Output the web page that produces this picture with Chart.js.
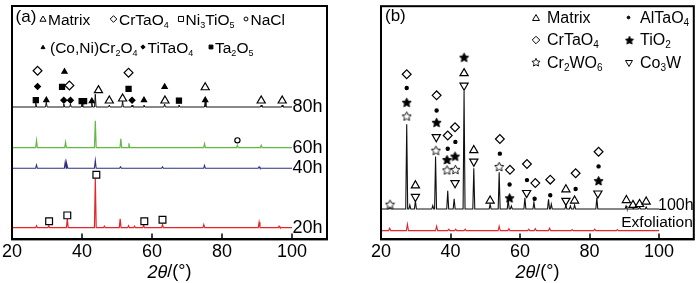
<!DOCTYPE html>
<html>
<head>
<meta charset="utf-8">
<script src="https://cdn.jsdelivr.net/npm/chart.js@4.4.0/dist/chart.umd.min.js"></script>
<style>
  html, body { margin: 0; padding: 0; background: #fff; }
  #wrap { position: relative; width: 700px; height: 283px; }
  .pane { position: absolute; top: 0; width: 350px; height: 283px; }
</style>
</head>
<body>
<div id="wrap">
  <div class="pane" style="left:0"><canvas id="chA" width="350" height="283"></canvas></div>
  <div class="pane" style="left:350px"><canvas id="chB" width="350" height="283"></canvas></div>
</div>
<script>
/* ===== XRD patterns, (a) oxidation time series / (b) 100h vs exfoliation ===== */
// x axis = 2θ (°); intensity = height above the x axis (arbitrary units)
var xTicks = [20, 40, 60, 80, 100];

// --- (a) curves: baseline, peak positions, peak tops ---
var aCurveNames = ["20h", "40h", "60h", "80h"];
var aCurveColors = ["#e3262b", "#2e2f80", "#63b946", "#111111"];
var a20hBase = 12;
var a20hPos = [27.0, 30.5, 35.8, 43.8, 46.4, 50.9, 53.3, 55.0, 57.6, 63.0, 74.8, 90.6, 96.3];
var a20hTop = [14, 14, 21, 62, 13.5, 21, 14, 13.5, 14.5, 15, 15, 17.5, 13.5];
var a40hBase = 72.5;
var a40hPos = [27.0, 35.2, 35.7, 43.8, 51.0, 63.0, 75.0, 90.6];
var a40hTop = [76, 79, 78, 80.5, 74, 74, 75.5, 74];
var a60hBase = 93.5;
var a60hPos = [27.0, 35.3, 43.8, 51.1, 53.4, 75.0, 84.4, 91.2];
var a60hTop = [101, 99, 121, 102.5, 98, 97.5, 96, 96];
var a80hBase = 135;
var a80hPos = [26.8, 29.8, 34.8, 36.7, 40.0, 42.8, 43.8, 47.8, 51.6, 54.3, 57.7, 63.6, 67.7, 75.2, 91.2, 97.2];
var a80hTop = [139, 140, 138, 138, 138, 139, 148, 137, 141, 137, 137, 138, 137, 141, 137, 137];

// --- (a) phase markers ---
var aMatrixX = [44.7, 75.2, 47.8, 51.6, 63.7, 91.2, 97.2];
var aMatrixY = [152, 155, 141.5, 143.5, 141.5, 141.5, 141.5];
var aCrTaO4X = [27.3, 36.4, 53.3];
var aCrTaO4Y = [172, 157, 170];
var aNi3TiO5X = [30.6, 35.8, 44.1, 57.8, 63.0];
var aNi3TiO5Y = [18.5, 24.5, 66, 18.5, 20];
var aNaClX = [84.4];
var aNaClY = [101];
var aSpinelX = [35.0, 63.6, 29.8, 42.8, 57.7, 75.2];
var aSpinelY = [171, 155.5, 142, 141, 142, 142];
var aTiTaO4X = [27.3, 34.8, 36.7, 54.3];
var aTiTaO4Y = [156, 142, 142, 142];
var aTa2O5X = [34.3, 53.3, 26.8, 39.9, 40.6, 67.7];
var aTa2O5Y = [155.5, 153.5, 142, 141, 141, 141.5];

// --- (b) curves ---
var bCurveNames = ["Exfoliation", "100h"];
var bCurveColors = ["#e3262b", "#111111"];
var bExfBase = 9;
var bExfPos = [22.5, 27.6, 36.0, 39.5, 41.5, 44.2, 54.0, 56.8, 62.5, 64.4, 68.5, 75.0, 81.5, 88.0];
var bExfTop = [11.5, 15.5, 13.5, 10.5, 10.5, 10.5, 13.5, 11, 10.5, 11, 11.5, 10, 10.5, 10];
var b100hBase = 31;
var b100hPos = [22.6, 27.4, 28.3, 29.9, 34.9, 35.7, 39.2, 41.05, 43.9, 46.7, 51.4, 54.0, 56.6, 57.5, 61.4, 64.0, 68.2, 69.0, 73.2, 74.5, 75.7, 82.1, 90.5, 92.5, 94.4, 96.3];
var b100hTop = [33, 117.5, 35, 39.5, 34.5, 84.5, 49.5, 41.5, 151.5, 72.5, 36, 68.5, 41, 34, 42.5, 38, 41, 36, 35, 34, 35, 42.5, 34, 33, 33, 33];

// --- (b) phase markers ---
var bMatrixX = [43.9, 29.9, 46.7, 51.4, 73.2, 75.7, 90.6, 92.5, 94.4, 96.3];
var bMatrixY = [169.5, 55, 91, 39.5, 51, 39.5, 40, 35, 36, 38.5];
var bCo3WX = [43.9, 29.9, 35.9, 41.3, 46.7, 61.9, 73.2, 82.4];
var bCo3WY = [157, 43.5, 104.5, 57.5, 79.5, 47.5, 39.5, 47];
var bCrTaO4X = [27.4, 36.0, 39.2, 41.3, 54.2, 57.1, 62.0, 64.4, 68.7, 76.0, 82.6];
var bCrTaO4Y = [168.5, 147, 106, 114.5, 102.5, 71, 77, 57.5, 61, 67.5, 89.5];
var bAlTaO4X = [27.4, 36.0, 39.2, 41.4, 54.2, 57.0, 62.0, 64.2, 68.7, 76.0, 82.6];
var bAlTaO4Y = [154.5, 131.5, 92.5, 99.5, 87.5, 56, 60.5, 41.5, 45, 51.5, 74.5];
var bTiO2X = [43.9, 27.4, 36.0, 39.0, 41.3, 57.0, 82.6];
var bTiO2Y = [186, 140, 119.5, 81.5, 85, 42.5, 60];
var bCr2WO6X = [22.6, 27.4, 35.8, 39.0, 41.4, 54.0];
var bCr2WO6Y = [36, 126, 91, 71, 71.5, 74.5];

var FONT = "'Liberation Sans', Arial, Helvetica, sans-serif";
Chart.defaults.font.family = FONT;

function pattern(base, pos, top, hw) {
  var pts = [{ x: 20, y: base }];
  pos.forEach(function (p, i) {
    pts.push({ x: p - hw, y: base }, { x: p, y: top[i] }, { x: p + hw, y: base });
  });
  pts.push({ x: 100, y: base });
  return pts;
}
function zip(xs, ys) { return xs.map(function (x, i) { return { x: x, y: ys[i] }; }); }

function starCanvas(size, filled) {
  var c = document.createElement("canvas");
  c.width = c.height = size;
  var g = c.getContext("2d"), r = size / 2 - 0.7, cx = size / 2, cy = size / 2 + 0.6;
  g.beginPath();
  for (var i = 0; i < 10; i++) {
    var rr = i % 2 ? r * 0.48 : r, ang = -Math.PI / 2 + i * Math.PI / 5;
    g.lineTo(cx + rr * Math.cos(ang), cy + rr * Math.sin(ang));
  }
  g.closePath();
  g.fillStyle = filled ? "#000" : "#fff"; g.fill();
  g.lineWidth = 0.9; g.strokeStyle = "#000"; g.stroke();
  return c;
}
var STAR = starCanvas(11, true), STAR_O = starCanvas(11, false);
var STAR_L = starCanvas(10, true), STAR_LO = starCanvas(10, false);

// marker look per phase
var M = {
  matrix:  { pointStyle: "triangle", radius: 4.7, rotation: 0, fill: "#fff" },
  co3w:    { pointStyle: "triangle", radius: 4.7, rotation: 180, fill: "#fff" },
  crtao4:  { pointStyle: "rectRot", radius: 4.4, rotation: 0, fill: "#fff" },
  ni3tio5: { pointStyle: "rect", radius: 4.8, rotation: 0, fill: "#fff" },
  nacl:    { pointStyle: "circle", radius: 2.6, rotation: 0, fill: "#fff" },
  spinel:  { pointStyle: "triangle", radius: 3, rotation: 0, fill: "#000" },
  titao4:  { pointStyle: "rectRot", radius: 2.9, rotation: 0, fill: "#000" },
  ta2o5:   { pointStyle: "rect", radius: 3.6, rotation: 0, fill: "#000" },
  altao4:  { pointStyle: "circle", radius: 1.6, rotation: 0, fill: "#000" },
  tio2:    { pointStyle: STAR, radius: 5, rotation: 0, fill: "#000" },
  cr2wo6:  { pointStyle: STAR_O, radius: 5, rotation: 0, fill: "#fff" }
};

function markerSet(xs, ys, m) {
  return {
    data: zip(xs, ys), showLine: false, order: 0,
    pointStyle: m.pointStyle, pointRadius: m.radius, pointRotation: m.rotation,
    pointBackgroundColor: m.fill, pointBorderColor: "#000", pointBorderWidth: 1.2
  };
}
function lineSet(pts, color, w) {
  return { data: pts, showLine: true, order: 1, pointRadius: 0, borderColor: color, borderWidth: w, tension: 0 };
}

// text with "_n" subscripts, alphabetic baseline
function richText(ctx, x, y, str, size) {
  str.split(/(_\d)/).forEach(function (p) {
    if (!p) return;
    if (p.charAt(0) === "_") {
      ctx.font = Math.round(size * 0.6) + "px " + FONT;
      ctx.fillText(p.charAt(1), x, y + size * 0.2);
      x += ctx.measureText(p.charAt(1)).width;
    } else {
      ctx.font = size + "px " + FONT;
      ctx.fillText(p, x, y);
      x += ctx.measureText(p).width;
    }
  });
  return x;
}
function legendMark(ctx, m, x, y, scale) {
  ctx.save();
  ctx.fillStyle = m.fill; ctx.strokeStyle = "#000"; ctx.lineWidth = 1;
  var st = m.pointStyle === STAR ? STAR_L : m.pointStyle === STAR_O ? STAR_LO : m.pointStyle;
  Chart.helpers.drawPoint(ctx, { pointStyle: st, rotation: m.rotation, radius: m.radius * scale, borderWidth: 1 }, x, y);
  ctx.restore();
}

// frame, inward ticks, axis title, panel letter, legend, curve names
function deco(cfg) {
  return {
    id: "deco" + cfg.letter,
    afterDraw: function (chart) {
      var ctx = chart.ctx, a = chart.chartArea, xs = chart.scales.x, ys = chart.scales.y;
      ctx.save();
      ctx.strokeStyle = "#000"; ctx.lineWidth = 2;
      ctx.strokeRect(a.left, a.top, a.right - a.left, a.bottom - a.top);
      ctx.beginPath();
      xTicks.forEach(function (v) {
        var px = Math.round(xs.getPixelForValue(v));
        ctx.moveTo(px, a.bottom); ctx.lineTo(px, a.bottom - 6);
      });
      ctx.lineWidth = 1.5; ctx.stroke();

      ctx.fillStyle = "#000"; ctx.textBaseline = "middle";
      var it = "italic 18px " + FONT, nf = "18px " + FONT;
      ctx.font = it; var w1 = ctx.measureText("2θ").width;
      ctx.font = nf; var w2 = ctx.measureText("/(°)").width;
      var x0 = (a.left + a.right) / 2 - (w1 + w2) / 2;
      ctx.font = it; ctx.textAlign = "left"; ctx.fillText("2θ", x0, 272.5);
      ctx.font = nf; ctx.fillText("/(°)", x0 + w1, 272.5);

      ctx.textBaseline = "alphabetic";
      ctx.font = "17px " + FONT;
      ctx.fillText("(" + cfg.letter + ")", a.left + cfg.letterDx, cfg.letterY);

      cfg.legend.forEach(function (it2) {
        legendMark(ctx, it2.m, it2.mx, it2.my, cfg.legendScale);
        ctx.fillStyle = "#000";
        richText(ctx, it2.tx, it2.ty, it2.text, cfg.legendSize);
      });

      cfg.curves.forEach(function (c) {
        ctx.font = c.size + "px " + FONT;
        ctx.textAlign = c.align;
        ctx.textBaseline = c.baseline;
        var px = c.align === "right" ? a.right - 1 : xs.getPixelForValue(100) + c.dx;
        ctx.fillText(c.name, px, ys.getPixelForValue(c.base) + c.dy);
      });
      ctx.restore();
    }
  };
}

function makeChart(id, datasets, pad, cfg) {
  return new Chart(document.getElementById(id), {
    type: "scatter",
    data: { datasets: datasets },
    options: {
      responsive: false, animation: false, events: [],
      layout: { padding: pad },
      plugins: { legend: { display: false }, tooltip: { enabled: false } },
      scales: {
        x: {
          type: "linear", min: 20, max: 110,
          afterBuildTicks: function (s) { s.ticks = xTicks.map(function (v) { return { value: v }; }); },
          grid: { display: false, drawTicks: false },
          border: { display: true, color: "#000", width: 2 },
          ticks: { color: "#000", padding: 2, font: { size: 18, family: FONT }, maxRotation: 0 }
        },
        y: { display: false, min: 0, max: 238 }
      }
    },
    plugins: [deco(cfg)]
  });
}

// (a)
makeChart("chA", [
  markerSet(aMatrixX, aMatrixY, M.matrix),
  markerSet(aCrTaO4X, aCrTaO4Y, M.crtao4),
  markerSet(aNi3TiO5X, aNi3TiO5Y, M.ni3tio5),
  markerSet(aNaClX, aNaClY, M.nacl),
  markerSet(aSpinelX, aSpinelY, M.spinel),
  markerSet(aTiTaO4X, aTiTaO4Y, M.titao4),
  markerSet(aTa2O5X, aTa2O5Y, M.ta2o5),
  lineSet(pattern(a20hBase, a20hPos, a20hTop, 0.25), aCurveColors[0], 1.2),
  lineSet(pattern(a40hBase, a40hPos, a40hTop, 0.25), aCurveColors[1], 1.1),
  lineSet(pattern(a60hBase, a60hPos, a60hTop, 0.25), aCurveColors[2], 1.2),
  lineSet(pattern(a80hBase, a80hPos, a80hTop, 0.22), aCurveColors[3], 1)
], { left: 9, right: 23, top: 3, bottom: 18 }, {
  letter: "a", letterDx: 3.5, letterY: 22, legendScale: 0.75, legendSize: 15.5,
  legend: [
    { m: M.matrix, mx: 43, my: 19.5, tx: 48, ty: 24.5, text: "Matrix" },
    { m: M.crtao4, mx: 113.5, my: 19, tx: 119, ty: 24.5, text: "CrTaO_4" },
    { m: M.ni3tio5, mx: 181, my: 19, tx: 185.5, ty: 24.5, text: "Ni_3TiO_5" },
    { m: M.nacl, mx: 246, my: 19, tx: 250.5, ty: 24.5, text: "NaCl" },
    { m: M.spinel, mx: 43, my: 47.5, tx: 50, ty: 52.5, text: "(Co,Ni)Cr_2O_4" },
    { m: M.titao4, mx: 143, my: 47, tx: 147.5, ty: 52.5, text: "TiTaO_4" },
    { m: M.ta2o5, mx: 211, my: 47, tx: 215, ty: 52.5, text: "Ta_2O_5" }
  ],
  curves: [a20hBase, a40hBase, a60hBase, a80hBase].map(function (b, i) {
    return { name: aCurveNames[i], base: b, size: 18, align: "left", baseline: "middle", dx: 0.5, dy: 0 };
  })
});

// (b)
makeChart("chB", [
  markerSet(bMatrixX, bMatrixY, M.matrix),
  markerSet(bCo3WX, bCo3WY, M.co3w),
  markerSet(bCrTaO4X, bCrTaO4Y, M.crtao4),
  markerSet(bAlTaO4X, bAlTaO4Y, M.altao4),
  markerSet(bTiO2X, bTiO2Y, M.tio2),
  markerSet(bCr2WO6X, bCr2WO6Y, M.cr2wo6),
  lineSet(pattern(bExfBase, bExfPos, bExfTop, 0.3), bCurveColors[0], 1.1),
  lineSet(pattern(b100hBase, b100hPos, b100hTop, 0.28), bCurveColors[1], 1.1)
], { left: 31, right: 2, top: 3, bottom: 18 }, {
  letter: "b", letterDx: 4, letterY: 20.5, legendScale: 0.85, legendSize: 16,
  legend: [
    { m: M.matrix, mx: 536, my: 18.5, tx: 547, ty: 22.7, text: "Matrix" },
    { m: M.altao4, mx: 628.5, my: 17.5, tx: 640, ty: 22.7, text: "AlTaO_4" },
    { m: M.crtao4, mx: 536, my: 40, tx: 547, ty: 45, text: "CrTaO_4" },
    { m: M.tio2, mx: 629.5, my: 40, tx: 640, ty: 45, text: "TiO_2" },
    { m: M.cr2wo6, mx: 536, my: 62, tx: 547, ty: 67.7, text: "Cr_2WO_6" },
    { m: M.co3w, mx: 629, my: 62.5, tx: 640, ty: 67.7, text: "Co_3W" }
  ].map(function (l) { l.mx -= 350; l.tx -= 350; return l; }),
  curves: [
    { name: bCurveNames[0], base: bExfBase, size: 15.5, align: "right", baseline: "alphabetic", dx: 0, dy: -4 },
    { name: bCurveNames[1], base: b100hBase, size: 16, align: "left", baseline: "alphabetic", dx: -1, dy: 0.5 }
  ]
});
</script>
</body>
</html>
